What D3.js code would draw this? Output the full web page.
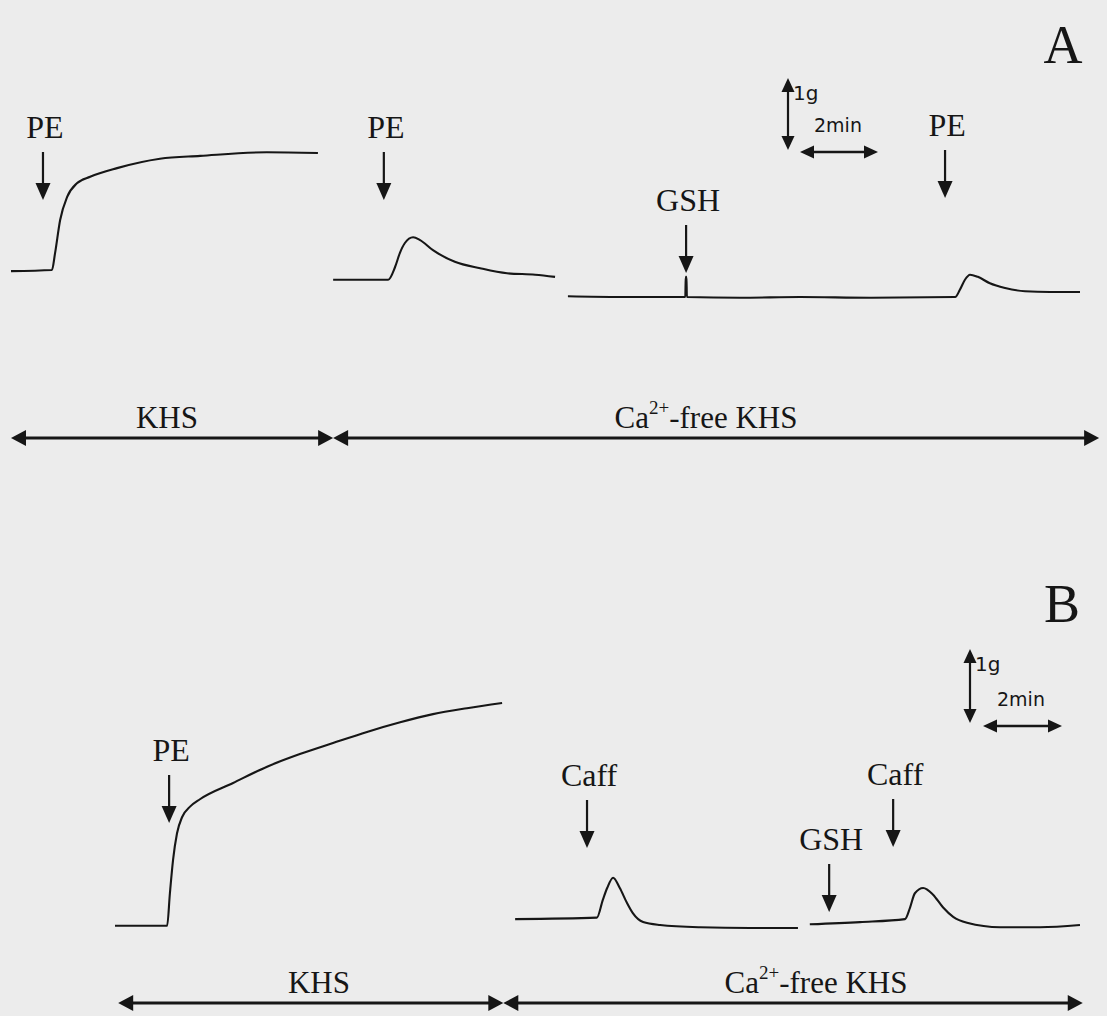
<!DOCTYPE html>
<html>
<head>
<meta charset="utf-8">
<script src="https://cdn.jsdelivr.net/npm/d3@7/dist/d3.min.js"></script>
<style>
  html, body { margin: 0; padding: 0; background: #ececec; }
  #chart { width: 1107px; height: 1016px; }
</style>
</head>
<body>
<div id="chart"></div>
<script>
// ---- data: time (min) and tension (g) ----

// panel A
const traceA1 = [[0,0.36],[1.05,0.375],[1.13,0.61],[1.26,1.07],[1.44,1.39],[1.69,1.58],[2.03,1.67],
  [2.72,1.79],[3.82,1.92],[4.85,1.96],[6.56,2.01],[7.87,2.0]];
const traceA2 = [[8.26,0.24],[9.67,0.24],[9.85,0.42],[9.97,0.61],[10.1,0.75],[10.31,0.83],[10.49,0.79],
  [10.82,0.65],[11.38,0.49],[12.03,0.40],[12.72,0.33],[13.44,0.31],[13.95,0.28]];
const traceA3 = [[14.28,0.01],[15.62,0],[17.29,0],[17.30,0.28],[17.32,0.28],[17.33,0],[18.69,-0.01],[20.23,0],
  [22.03,-0.01],[24.21,0],[24.33,0.10],[24.46,0.24],[24.59,0.31],[24.79,0.28],[25.1,0.19],
  [25.49,0.125],[26.0,0.08],[26.64,0.07],[27.41,0.07]];
const eventsA = [
  { label: 'PE',  t: 0.82 },
  { label: 'PE',  t: 9.56 },
  { label: 'GSH', t: 17.31 },
  { label: 'PE',  t: 23.95 }
];

// panel B
const traceB1 = [[0,0.03],[1.32,0.03],[1.39,0.47],[1.47,0.92],[1.57,1.28],[1.7,1.5],[1.9,1.64],
  [2.15,1.74],[2.99,1.96],[3.85,2.18],[4.68,2.35],[5.52,2.5],[6.38,2.65],[7.22,2.78],
  [8.05,2.89],[8.91,2.97],[9.8,3.04]];
const traceB2 = [[10.13,0.12],[12.2,0.14],[12.35,0.38],[12.46,0.54],[12.61,0.68],[12.78,0.54],
  [12.96,0.34],[13.11,0.2],[13.37,0.08],[13.8,0.04],[14.81,0.01],[16.08,0],[17.29,0]];
const traceB3 = [[17.59,0.05],[18.86,0.08],[20.0,0.12],[20.13,0.28],[20.25,0.47],[20.46,0.54],
  [20.71,0.45],[20.96,0.28],[21.22,0.15],[21.57,0.07],[22.41,0.01],[23.42,0.01],[24.43,0.04]];
const eventsB = [
  { label: 'PE',   t: 1.37 },
  { label: 'Caff', t: 11.95 },
  { label: 'GSH',  t: 18.08 },
  { label: 'Caff', t: 19.70 }
];

// solution periods (min)
const periodsA = [{ label: 'KHS', from: 0, to: 8.26 }, { label: 'Ca', from: 8.26, to: 27.9 }];
const periodsB = [{ label: 'KHS', from: 0.08, to: 9.83 }, { label: 'Ca', from: 9.83, to: 24.5 }];

// calibration bars
const scaleBarG = 1;
const scaleBarMin = 2;

// ---- layout ----
const W = 1107, H = 1016;
const INK = '#161616';
const SERIF = '"Liberation Serif", "Times New Roman", serif';
const SANS = '"DejaVu Sans", Verdana, sans-serif';

const svg = d3.select('#chart').append('svg')
  .attr('width', W).attr('height', H)
  .attr('viewBox', `0 0 ${W} ${H}`);

svg.append('rect').attr('width', W).attr('height', H).attr('fill', '#ececec');

// filled triangle, tip at (x,y), pointing in direction dir ('down','up','left','right')
function head(g, x, y, dir, len, hw) {
  let pts;
  if (dir === 'down')  pts = [[x, y], [x - hw, y - len], [x + hw, y - len]];
  if (dir === 'up')    pts = [[x, y], [x - hw, y + len], [x + hw, y + len]];
  if (dir === 'left')  pts = [[x, y], [x + len, y - hw], [x + len, y + hw]];
  if (dir === 'right') pts = [[x, y], [x - len, y - hw], [x - len, y + hw]];
  g.append('path').attr('d', 'M' + pts.join('L') + 'Z').attr('fill', INK);
}

function drawPanel(cfg) {
  const g = svg.append('g');
  const x = d3.scaleLinear().domain(cfg.xDomain).range(cfg.xRange);
  const y = d3.scaleLinear().domain(cfg.yDomain).range(cfg.yRange);
  const line = d3.line().x(d => x(d[0])).y(d => y(d[1])).curve(d3.curveMonotoneX);

  // 1) traces
  cfg.traces.forEach(tr => {
    g.append('path')
      .datum(tr)
      .attr('d', line)
      .attr('fill', 'none')
      .attr('stroke', INK)
      .attr('stroke-width', 2.1)
      .attr('stroke-linejoin', 'round');
  });

  // 2) drug additions: label + down arrow
  cfg.events.forEach((ev, i) => {
    const ex = x(ev.t);
    const tip = cfg.arrowTips[i];
    g.append('line')
      .attr('x1', ex).attr('x2', ex)
      .attr('y1', tip - 48).attr('y2', tip - 12)
      .attr('stroke', INK).attr('stroke-width', 2.2);
    head(g, ex, tip, 'down', 17, 7.5);
    g.append('text')
      .attr('x', ex + 2).attr('y', tip - 62)
      .attr('text-anchor', 'middle')
      .attr('font-family', SERIF).attr('font-size', 32)
      .attr('fill', INK)
      .text(ev.label);
  });

  // 3) calibration bars
  const sb = cfg.scaleBar;
  const vTop = sb.vy, vBot = sb.vy + (y(0) - y(scaleBarG));
  g.append('line').attr('x1', sb.vx).attr('x2', sb.vx)
    .attr('y1', vTop + 8).attr('y2', vBot - 8)
    .attr('stroke', INK).attr('stroke-width', 2.2);
  head(g, sb.vx, vTop, 'up', 14, 6.5);
  head(g, sb.vx, vBot, 'down', 14, 6.5);
  g.append('text').attr('x', sb.vx + 5).attr('y', vTop + 22)
    .attr('font-family', SANS).attr('font-size', 20).attr('fill', INK).text(scaleBarG + 'g');

  const hL = sb.hx, hR = sb.hx + (x(scaleBarMin) - x(0));
  g.append('line').attr('x1', hL + 8).attr('x2', hR - 8)
    .attr('y1', sb.hy).attr('y2', sb.hy)
    .attr('stroke', INK).attr('stroke-width', 2.4);
  head(g, hL, sb.hy, 'left', 14, 6.5);
  head(g, hR, sb.hy, 'right', 14, 6.5);
  g.append('text').attr('x', hL + 14).attr('y', sb.hy - 20)
    .attr('font-family', SANS).attr('font-size', 19).attr('fill', INK).text(scaleBarMin + 'min');

  // 4) solution periods, double arrows underneath
  cfg.periods.forEach((p, i) => {
    const x1 = x(p.from), x2 = x(p.to), py = cfg.periodY;
    g.append('line').attr('x1', x1 + 10).attr('x2', x2 - 10)
      .attr('y1', py).attr('y2', py)
      .attr('stroke', INK).attr('stroke-width', 2.8);
    head(g, x1, py, 'left', 15, 8);
    head(g, x2, py, 'right', 15, 8);
    const t = g.append('text')
      .attr('x', cfg.periodLabelX[i])
      .attr('y', py - 10)
      .attr('text-anchor', 'middle')
      .attr('font-family', SERIF).attr('font-size', 31)
      .attr('fill', INK);
    if (p.label === 'KHS') {
      t.text('KHS');
    } else {
      t.append('tspan').text('Ca');
      t.append('tspan').attr('font-size', 19).attr('dy', -14).text('2+');
      t.append('tspan').attr('dy', 14).text('-free KHS');
    }
  });

  // 5) panel letter
  g.append('text')
    .attr('x', cfg.letter.x).attr('y', cfg.letter.y)
    .attr('text-anchor', 'middle')
    .attr('font-family', SERIF).attr('font-size', 54)
    .attr('fill', INK)
    .text(cfg.letter.text);
}

drawPanel({
  xDomain: [0, 28], xRange: [11, 11 + 28 * 39],
  yDomain: [0, 2], yRange: [297, 297 - 2 * 72],
  traces: [traceA1, traceA2, traceA3],
  events: eventsA,
  arrowTips: [200, 200, 273, 198],
  scaleBar: { vx: 788, vy: 78, hx: 800, hy: 152 },
  periods: periodsA, periodY: 438, periodLabelX: [167, 706],
  letter: { text: 'A', x: 1063, y: 63 }
});

drawPanel({
  xDomain: [0, 25], xRange: [115, 115 + 25 * 39.5],
  yDomain: [0, 3], yRange: [928, 928 - 3 * 74],
  traces: [traceB1, traceB2, traceB3],
  events: eventsB,
  arrowTips: [823, 848, 912, 847],
  scaleBar: { vx: 970, vy: 649, hx: 983, hy: 726 },
  periods: periodsB, periodY: 1003, periodLabelX: [319, 816],
  letter: { text: 'B', x: 1062, y: 622 }
});
</script>
</body>
</html>
